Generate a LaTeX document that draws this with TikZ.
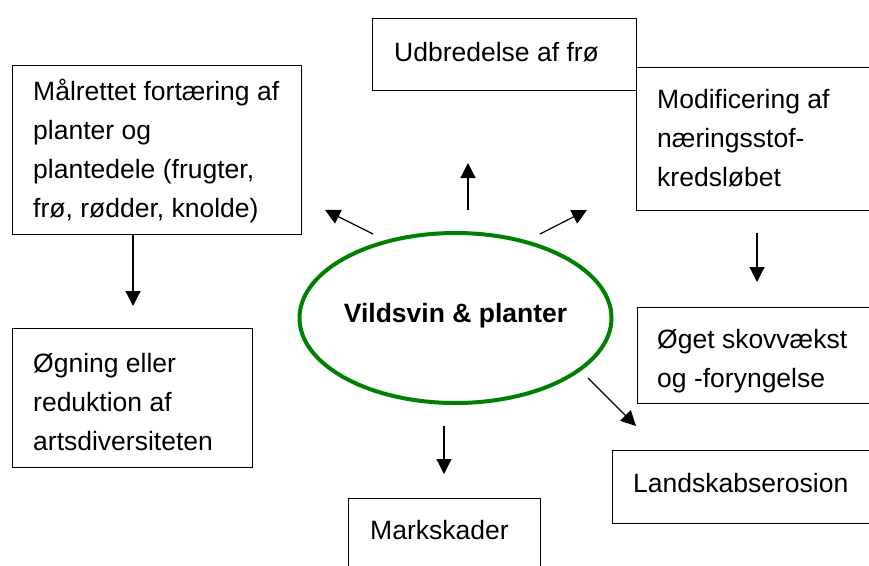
\documentclass[tikz,border=0pt]{standalone}
\usepackage{fontspec}
\setmainfont{Liberation Sans}
\usetikzlibrary{arrows.meta,shapes.geometric}
\definecolor{vgreen}{RGB}{0,128,0}
\newcommand\firststrut{\rule{0pt}{28pt}}
\tikzset{
  boxnode/.style={draw=black, fill=white, line width=1.2pt, rectangle, inner sep=0pt, anchor=north west},
  txt/.style={inner sep=0pt, anchor=north west, align=left, font=\fontsize{26.5pt}{39pt}\selectfont},
  arr/.style={line width=1.2pt, -{Triangle[length=15pt,width=15pt]}},
  centerell/.style={draw=vgreen, line width=4pt, ellipse, inner sep=0pt, minimum width=312pt, minimum height=170pt}
}
\begin{document}
\begin{tikzpicture}[x=1pt,y=-1pt]
\useasboundingbox (0,0) rectangle (869,565);
\clip (0,0) rectangle (869,565);
\fill[white] (0,0) rectangle (869,565);

% boxes
\node[boxnode, minimum width=264pt, minimum height=72pt] (udb) at (372,18) {};
\node[boxnode, minimum width=260pt, minimum height=143pt] (mod) at (636,67) {};
\node[boxnode, minimum width=289pt, minimum height=169pt] (mal) at (12,65) {};
\node[boxnode, minimum width=240pt, minimum height=139pt] (ogn) at (12,328) {};
\node[boxnode, minimum width=260pt, minimum height=96pt] (oget) at (637,307) {};
\node[boxnode, minimum width=280pt, minimum height=73pt] (land) at (612,450) {};
\node[boxnode, minimum width=192pt, minimum height=100pt] (mark) at (348,498) {};

% texts
\node[txt] (udbt) at (394,33) {\firststrut Udbredelse af frø};
\node[txt] (modt) at (657,80) {\firststrut Modificering af\\næringsstof-\\kredsløbet};
\node[txt] (malt) at (33,72) {\firststrut Målrettet fortæring af\\planter og\\plantedele (frugter,\\frø, rødder, knolde)};
\node[txt] (ognt) at (33,344) {\firststrut Øgning eller\\reduktion af\\artsdiversiteten};
\node[txt] (ogett) at (657,320) {\firststrut Øget skovvækst\\og -foryngelse};
\node[txt] (landt) at (633,464) {\firststrut Landskabserosion};
\node[txt] (markt) at (370,511) {\firststrut Markskader};

% centre ellipse
\node[centerell] (ell) at (455.5,318) {};
\node[inner sep=0pt, anchor=base, font=\fontsize{26.5pt}{39pt}\selectfont\bfseries] (ellt) at (455.5,322) {Vildsvin \& planter};

% arrow end points
\coordinate (a1s) at (373,234); \coordinate (a1e) at (325,210);
\coordinate (a2s) at (468,210); \coordinate (a2e) at (468,163);
\coordinate (a3s) at (540,234); \coordinate (a3e) at (587,210);
\coordinate (a4s) at (444,426); \coordinate (a4e) at (444,474);
\coordinate (a5s) at (588,378); \coordinate (a5e) at (636,426);
\coordinate (a6s) at (757,233); \coordinate (a6e) at (757,282);
\coordinate (a7s) at (133,234); \coordinate (a7e) at (133,306);

\draw[arr] (a1s) -- (a1e);
\draw[arr] (a2s) -- (a2e);
\draw[arr] (a3s) -- (a3e);
\draw[arr] (a4s) -- (a4e);
\draw[arr] (a5s) -- (a5e);
\draw[arr] (a6s) -- (a6e);
\draw[arr] (a7s) -- (a7e);
\end{tikzpicture}
\end{document}
